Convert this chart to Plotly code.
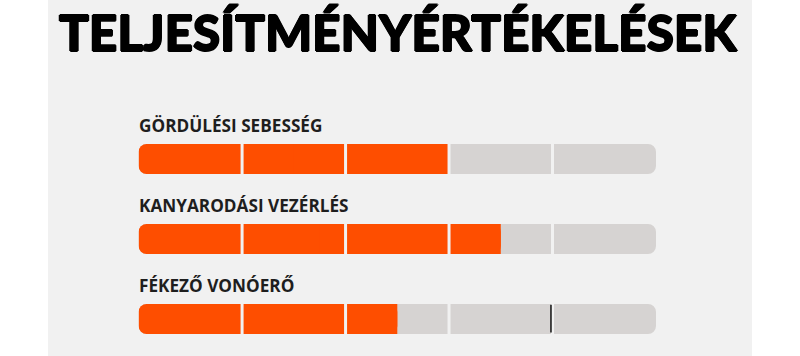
import plotly.graph_objects as go

# ---- data ----
title_text = "TELJESÍTMÉNYÉRTÉKELÉSEK"
categories = ["GÖRDÜLÉSI SEBESSÉG", "KANYARODÁSI VEZÉRLÉS", "FÉKEZŐ VONÓERŐ"]
scores = [3.0, 3.5, 2.5]
max_score = 5
segment_ticks = [1, 2, 3, 4]
cursor_values = [None, None, 3.985]

# ---- styles ----
ORANGE = "#FE4E00"
TRACK = "#D6D3D2"
PANEL = "#F1F1F1"
LABEL = "#1E1E1E"
BAR_H = 0.375

rows = list(range(len(categories)))

fig = go.Figure()

# grey track (rounded at both ends)
fig.add_trace(go.Bar(
    y=rows, x=[max_score] * len(rows), base=[0] * len(rows),
    orientation="h", width=BAR_H,
    marker=dict(color=TRACK, line=dict(width=0), cornerradius=8),
    hoverinfo="skip", showlegend=False,
))

# orange score, rounded body
fig.add_trace(go.Bar(
    y=rows, x=scores, base=[0] * len(rows),
    orientation="h", width=BAR_H,
    marker=dict(color=ORANGE, line=dict(width=0), cornerradius=8),
    hoverinfo="skip", showlegend=False,
))
# orange score, square right end
fig.add_trace(go.Bar(
    y=rows, x=[s / 2 for s in scores], base=[s / 2 for s in scores],
    orientation="h", width=BAR_H,
    marker=dict(color=ORANGE, line=dict(width=0), cornerradius=0),
    hoverinfo="skip", showlegend=False,
))

# segment separators
sx, sy = [], []
for r in rows:
    for t in segment_ticks:
        sx += [t, t, None]
        sy += [r - BAR_H / 2, r + BAR_H / 2, None]
fig.add_trace(go.Scatter(
    x=sx, y=sy, mode="lines", line=dict(color=PANEL, width=3),
    hoverinfo="skip", showlegend=False,
))

# cursor mark
cx, cy = [], []
for r, c in zip(rows, cursor_values):
    if c is not None:
        cx += [c, c, None]
        cy += [r - BAR_H / 2 + 0.01, r + BAR_H / 2 - 0.02, None]
fig.add_trace(go.Scatter(
    x=cx, y=cy, mode="lines", line=dict(color="#111111", width=1.5),
    hoverinfo="skip", showlegend=False,
))

annotations = []
for r, name in zip(rows, categories):
    annotations.append(dict(
        x=0, y=r - BAR_H / 2, xref="x", yref="y",
        xanchor="left", yanchor="bottom", yshift=5, xshift=-2,
        text=name, showarrow=False,
        font=dict(family="Open Sans", size=17.2, color=LABEL, weight=700),
    ))
annotations.append(dict(
    x=0.4975, y=1, xref="paper", yref="paper",
    xanchor="center", yanchor="top", yshift=0,
    text=title_text, showarrow=False,
    font=dict(family="Lato", size=49.5, color="#000000", weight=900,
              shadow="0.9px 0 0 #000, -0.9px 0 0 #000, 0 0.6px 0 #000, 0 -0.6px 0 #000"),
))

fig.update_layout(
    width=800, height=356, autosize=False,
    margin=dict(l=0, r=0, t=0, b=0),
    paper_bgcolor="#FFFFFF", plot_bgcolor="rgba(0,0,0,0)",
    barmode="overlay",
    xaxis=dict(range=[0, max_score], domain=[138.6 / 800, 656 / 800],
               visible=False, fixedrange=True),
    yaxis=dict(range=[2.4625, -1.9875], domain=[0, 1],
               visible=False, fixedrange=True),
    shapes=[dict(type="rect", xref="paper", yref="paper",
                 x0=48 / 800, x1=752 / 800, y0=0, y1=1,
                 fillcolor=PANEL, line=dict(width=0), layer="below")],
    annotations=annotations,
    showlegend=False,
)

fig.write_html(
    "out.html",
    config={"displayModeBar": False},
    post_script="document.body.style.margin='0';document.body.style.padding='0';",
)
